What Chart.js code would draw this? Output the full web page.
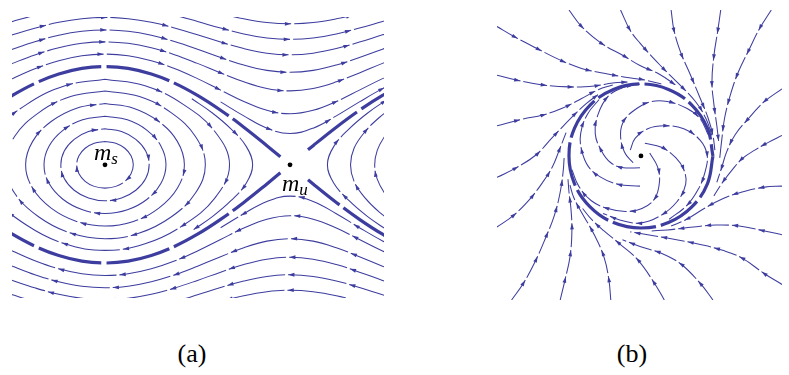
<!DOCTYPE html>
<html><head><meta charset="utf-8">
<script src="https://cdn.jsdelivr.net/npm/chart.js@4.4.1/dist/chart.umd.min.js"></script>
<style>
html,body{margin:0;padding:0;background:#fff;}
body{width:789px;height:375px;position:relative;overflow:hidden;font-family:"Liberation Serif","Times New Roman",serif;}
.pane{position:absolute;}
.lbl{position:absolute;color:#000;white-space:nowrap;line-height:1;}
.sub{position:relative;font-style:italic;}
</style></head><body>
<div class="pane" style="left:8px;top:13px;width:380px;height:289px"><canvas id="ca" width="380" height="289"></canvas></div>
<div class="pane" style="left:493px;top:6px;width:293px;height:298px"><canvas id="cb" width="293" height="298"></canvas></div>
<div class="lbl" style="left:94px;top:140px;font-size:24px;"><i>m</i><span class="sub" style="font-size:17px;top:4px;">s</span></div>
<div class="lbl" style="left:282px;top:171px;font-size:24px;"><i>m</i><span class="sub" style="font-size:17px;top:4px;">u</span></div>
<div class="lbl" style="left:142px;top:341px;width:100px;text-align:center;font-size:26px;">(a)</div>
<div class="lbl" style="left:582px;top:341px;width:100px;text-align:center;font-size:26px;">(b)</div>
<script>
// ---------- Panel (a): pendulum-like phase portrait (picture coordinates) ----------
const xGridA = [-15.1, 8.5, 32.1, 55.8, 79.4, 103, 126.6, 150.3, 173.9, 197.5, 221.1, 244.8, 268.4, 292, 315.6, 339.3, 362.9, 386.5, 410.1];
// upper running orbits (flow to the right)
const topA1 = [9.5, 3.4, -2.6, -7.4, -10.6, -11.7, -10.6, -7.4, -2.6, 3.4, 9.5, 14.9, 18.7, 20.0, 18.7, 14.9, 9.5, 3.4, -2.6];
const topA2 = [24.4, 17.6, 11.1, 5.8, 2.4, 1.2, 2.4, 5.8, 11.1, 17.6, 24.4, 30.4, 34.5, 36.0, 34.5, 30.4, 24.4, 17.6, 11.1];
const topA3 = [38.8, 31.3, 24.2, 18.4, 14.7, 13.4, 14.7, 18.4, 24.2, 31.3, 38.8, 45.5, 50.2, 51.9, 50.2, 45.5, 38.8, 31.3, 24.2];
const topA4 = [54.6, 46.1, 38.2, 31.8, 27.7, 26.3, 27.7, 31.8, 38.2, 46.1, 54.6, 62.4, 67.9, 69.9, 67.9, 62.4, 54.6, 46.1, 38.2];
const topA5 = [70.5, 60.7, 51.7, 44.7, 40.1, 38.6, 40.1, 44.7, 51.7, 60.7, 70.5, 79.7, 86.5, 89.0, 86.5, 79.7, 70.5, 60.7, 51.7];
const topA6 = [88.2, 76.4, 66.0, 58.0, 52.9, 51.2, 52.9, 58.0, 66.0, 76.4, 88.2, 99.9, 109.0, 112.6, 109.0, 99.9, 88.2, 76.4, 66.0];
const topA7 = [null, null, null, null, null, null, null, null, null, null, 100.3, 114.7, 127.3, 132.8, 127.3, 114.7, 100.3, 86.7, 75.1];
// lower running orbits (flow to the left)
const botB2 = [305.6, 312.4, 318.9, 324.2, 327.6, 328.8, 327.6, 324.2, 318.9, 312.4, 305.6, 299.6, 295.5, 294.0, 295.5, 299.6, 305.6, 312.4, 318.9];
const botB3 = [291.2, 298.7, 305.8, 311.6, 315.3, 316.6, 315.3, 311.6, 305.8, 298.7, 291.2, 284.5, 279.8, 278.1, 279.8, 284.5, 291.2, 298.7, 305.8];
const botB4 = [275.4, 283.9, 291.8, 298.2, 302.3, 303.7, 302.3, 298.2, 291.8, 283.9, 275.4, 267.6, 262.1, 260.1, 262.1, 267.6, 275.4, 283.9, 291.8];
const botB5 = [259.5, 269.3, 278.3, 285.3, 289.9, 291.4, 289.9, 285.3, 278.3, 269.3, 259.5, 250.3, 243.5, 241.0, 243.5, 250.3, 259.5, 269.3, 278.3];
const botB6 = [241.8, 253.6, 264.0, 272.0, 277.1, 278.8, 277.1, 272.0, 264.0, 253.6, 241.8, 230.1, 221.0, 217.4, 221.0, 230.1, 241.8, 253.6, 264.0];
const botB7 = [null, null, null, null, null, null, null, null, null, null, 229.7, 215.3, 202.7, 197.2, 202.7, 215.3, 229.7, 243.3, 254.9];
// separatrices (thick)
const sepUpper = [108.9, 93.6, 81.0, 71.7, 65.9, 64.0, 65.9, 71.7, 81.0, 93.6, 108.9, 126.3, 145.3, 165.0, 184.7, 203.7, 221.1, 236.4, 249.0];
const sepLower = [221.1, 236.4, 249.0, 258.3, 264.1, 266.0, 264.1, 258.3, 249.0, 236.4, 221.1, 203.7, 184.7, 165.0, 145.3, 126.3, 108.9, 93.6, 81.0];
// closed orbits around m_s (clockwise on screen)
const loop24x = [103, 114.0, 123.3, 129.6, 131.9, 129.6, 123.3, 114.0, 103, 92.0, 82.7, 76.4, 74.1, 76.4, 82.7, 92.0, 103];
const loop24y = [141, 142.8, 148.0, 155.8, 165, 174.2, 182.0, 187.2, 189, 187.2, 182.0, 174.2, 165, 155.8, 148.0, 142.8, 141];
const loop37x = [103, 119.9, 134.5, 144.6, 148.1, 144.6, 134.5, 119.9, 103, 86.1, 71.5, 61.4, 57.9, 61.4, 71.5, 86.1, 103];
const loop37y = [128, 130.8, 138.8, 150.8, 165, 179.2, 191.2, 199.2, 202, 199.2, 191.2, 179.2, 165, 150.8, 138.8, 130.8, 128];
const loop50x = [103, 125.9, 146.0, 160.2, 165.3, 160.2, 146.0, 125.9, 103, 80.1, 60.0, 45.8, 40.7, 45.8, 60.0, 80.1, 103];
const loop50y = [115, 118.8, 129.6, 145.9, 165, 184.1, 200.4, 211.2, 215, 211.2, 200.4, 184.1, 165, 145.9, 129.6, 118.8, 115];
const loop63x = [103, 132.0, 158.0, 176.9, 184.1, 176.9, 158.0, 132.0, 103, 74.0, 48.0, 29.1, 21.9, 29.1, 48.0, 74.0, 103];
const loop63y = [102, 106.8, 120.5, 140.9, 165, 189.1, 209.5, 223.2, 228, 223.2, 209.5, 189.1, 165, 140.9, 120.5, 106.8, 102];
const loop76x = [103, 138.2, 170.5, 195.4, 205.5, 195.4, 170.5, 138.2, 103, 67.9, 35.5, 10.6, 0.5, 10.6, 35.5, 67.9, 103];
const loop76y = [89, 94.8, 111.3, 135.9, 165, 194.1, 218.7, 235.2, 241, 235.2, 218.7, 194.1, 165, 135.9, 111.3, 94.8, 89];
const loop88x = [103, 143.9, 182.9, 215.6, 230.2, 215.6, 182.9, 143.9, 103, 62.1, 23.1, -9.6, -24.2, -9.6, 23.1, 62.1, 103];
const loop88y = [77, 83.7, 102.8, 131.3, 165, 198.7, 227.2, 246.3, 253, 246.3, 227.2, 198.7, 165, 131.3, 102.8, 83.7, 77];
const arc96x = [191.7, 212.7, 231.9, 247.4, 253.8, 247.4, 231.9, 212.7, 191.7];
const arc96y = [97.1, 111.7, 128.3, 146.3, 165, 183.7, 201.7, 218.3, 232.9];
// orbits around the next centre (right edge, flowing upward)
const right96x = [392.3, 371.3, 352.1, 336.6, 330.2, 336.6, 352.1, 371.3, 392.3];
const right96y = [232.9, 218.3, 201.7, 183.7, 165, 146.3, 128.3, 111.7, 97.1];
const right88x = [401.1, 383.5, 368.4, 357.5, 353.8, 357.5, 368.4, 383.5, 401.1];
const right88y = [227.2, 213.9, 198.7, 182.2, 165, 147.8, 131.3, 116.1, 102.8];
const right76x = [413.5, 399.7, 388.6, 381.1, 378.5, 381.1, 388.6, 399.7, 413.5];
const right76y = [218.7, 207.2, 194.1, 179.8, 165, 150.2, 135.9, 122.8, 111.3];
const fixedA = [[103, 165], [292, 165]];

// ---------- Panel (b): stable limit cycle ----------
const cycleX = [715, 709.4, 693.3, 669.3, 641, 612.7, 588.7, 572.6, 567, 572.6, 588.7, 612.7, 641, 669.3, 693.3, 709.4, 715];
const cycleY = [156, 184.3, 208.3, 224.4, 230, 224.4, 208.3, 184.3, 156, 127.7, 103.7, 87.6, 82, 87.6, 103.7, 127.7, 156];
const outerB = [
  [[493,23],[510,33],[533,45],[557,57],[580,66],[603,71],[625,75],[645,78],[662,82]],
  [[493,73],[513,78],[540,83],[567,85],[593,84],[612,81],[628,80]],
  [[493,125],[520,118],[540,114],[560,107],[580,97],[597,88],[612,83]],
  [[493,178],[513,168],[533,155],[550,137],[570,116],[585,102],[598,92]],
  [[493,229],[510,217],[527,200],[540,183],[550,167],[557,150],[564,132]],
  [[508,304],[520,287],[532,265],[543,240],[552,217],[558,193],[561,172],[562,158]],
  [[558,304],[563,283],[568,260],[570,233],[569,210],[567,193],[566,180]],
  [[610,304],[608,283],[603,260],[593,237],[580,214],[572,199],[568,186]],
  [[665,304],[655,287],[638,263],[620,247],[603,233],[590,221],[581,210]],
  [[715,304],[702,287],[682,267],[662,256],[640,249],[622,242]],
  [[786,288],[768,277],[745,261],[725,253],[702,247],[672,241],[648,237],[630,234]],
  [[786,237],[768,233],[742,228],[718,227],[695,229],[668,232],[652,233]],
  [[786,187],[768,188],[745,193],[725,200],[706,210],[688,221],[672,228]],
  [[786,135],[772,142],[758,150],[746,158],[735,170],[725,183],[716,197]],
  [[786,87],[768,100],[752,117],[738,134],[729,152],[724,168],[719,183]],
  [[672,6],[675,27],[682,50],[692,73],[702,97],[710,117],[715,135],[717,150]],
  [[723,6],[720,27],[716,53],[714,80],[716,103],[719,125],[721,142]],
  [[775,6],[763,25],[752,47],[741,70],[733,93],[727,117],[724,140],[722,158]],
  [[567,6],[580,23],[600,40],[623,53],[640,63],[660,72],[678,84]],
  [[620,6],[630,27],[640,40],[660,62],[680,82],[697,100],[708,118],[714,135]]
];
const innerB = [
  [[633,163],[624,152],[620,133],[624,119],[637,107],[652,100],[668,100],[688,107],[702,118],[710,134]],
  [[630,150],[635,138],[648,128],[665,125],[685,128],[702,140],[709,155],[707,172],[700,190],[688,207],[670,221]],
  [[645,143],[662,147],[677,158],[685,170],[687,185],[678,203],[660,218],[640,225],[620,222],[602,215]],
  [[650,153],[658,167],[660,183],[655,200],[642,210],[625,213],[607,210],[590,202],[577,187],[570,170]],
  [[640,168],[623,168],[610,163],[600,150],[594,133],[597,113],[607,95],[622,86],[640,82]],
  [[640,187],[617,185],[600,178],[587,167],[580,150],[579,133],[586,113],[598,98]]
];
const fixedB = [[641, 156]];

// ---------- drawing ----------
const COL = '#3d3d9f';
function xy(xs, ys) {
  const out = [];
  for (let i = 0; i < xs.length; i++) if (xs[i] !== null && ys[i] !== null) out.push({x: xs[i], y: ys[i]});
  return out;
}
function pairs(list) { return list.map(p => ({x: p[0], y: p[1]})); }
function thin(data, P) {
  return {data, showLine: true, pointRadius: 0, pointHoverRadius: 0, borderColor: COL, backgroundColor: COL,
    borderWidth: 1.05, tension: 0.4, fill: false, borderDash: [P - 3, 3], arrowP: P, arrowGap: 3};
}
function thick(data, dash, off) {
  return {data, showLine: true, pointRadius: 0, pointHoverRadius: 0, borderColor: COL, backgroundColor: COL,
    borderWidth: 3.2, tension: 0.4, fill: false, borderDash: dash, borderDashOffset: off};
}
function dots(list) {
  return {data: pairs(list), showLine: false, pointRadius: 2.4, pointBackgroundColor: '#000', pointBorderWidth: 0, pointBorderColor: '#000'};
}
function drawArrow(ctx, x, y, dx, dy) {
  const len = 6.2, w = 1.9, bx = x - dx * len, by = y - dy * len;
  ctx.beginPath();
  ctx.moveTo(x, y);
  ctx.lineTo(bx - dy * w, by + dx * w);
  ctx.lineTo(bx + dy * w, by - dx * w);
  ctx.closePath();
  ctx.fill();
}
const arrowPlugin = {
  id: 'streamArrows',
  afterDatasetsDraw(chart) {
    const ctx = chart.ctx, a = chart.chartArea;
    ctx.save();
    ctx.beginPath(); ctx.rect(a.left, a.top, a.right - a.left, a.bottom - a.top); ctx.clip();
    chart.data.datasets.forEach((ds, di) => {
      if (!ds.arrowP) return;
      const el = chart.getDatasetMeta(di).data;
      const sp = [];
      for (let j = 0; j < el.length; j++) {
        const p = el[j];
        if (j === 0) { sp.push([p.x, p.y]); continue; }
        const q = el[j - 1];
        const c1x = q.cp2x ?? q.x, c1y = q.cp2y ?? q.y, c2x = p.cp1x ?? p.x, c2y = p.cp1y ?? p.y;
        for (let t = 1; t <= 24; t++) {
          const u = t / 24, v = 1 - u;
          sp.push([v*v*v*q.x + 3*v*v*u*c1x + 3*v*u*u*c2x + u*u*u*p.x,
                   v*v*v*q.y + 3*v*v*u*c1y + 3*v*u*u*c2y + u*u*u*p.y]);
        }
      }
      const P = ds.arrowP, g = ds.arrowGap;
      let target = P - g, s = 0;
      ctx.fillStyle = ds.borderColor;
      for (let k = 1; k < sp.length; k++) {
        const x0 = sp[k-1][0], y0 = sp[k-1][1], x1 = sp[k][0], y1 = sp[k][1];
        const L = Math.hypot(x1 - x0, y1 - y0);
        while (L > 0 && s + L >= target) {
          const f = (target - s) / L;
          drawArrow(ctx, x0 + f * (x1 - x0), y0 + f * (y1 - y0), (x1 - x0) / L, (y1 - y0) / L);
          target += P;
        }
        s += L;
      }
    });
    ctx.restore();
  }
};
function mkChart(id, xmin, xmax, ymin, ymax, datasets) {
  return new Chart(document.getElementById(id), {
    type: 'scatter',
    data: {datasets},
    options: {
      responsive: false, animation: false, events: [], devicePixelRatio: 1,
      layout: {padding: 0},
      plugins: {legend: {display: false}, tooltip: {enabled: false}},
      elements: {line: {capBezierPoints: false}},
      scales: {
        x: {type: 'linear', min: xmin, max: xmax, display: false},
        y: {type: 'linear', min: ymin, max: ymax, reverse: true, display: false}
      }
    },
    plugins: [arrowPlugin]
  });
}

const PA = 62;
const dsA = [];
[topA1, topA2, topA3, topA4, topA5, topA6, topA7].forEach(ys => dsA.push(thin(xy(xGridA, ys), PA)));
[botB2, botB3, botB4, botB5, botB6, botB7].forEach(ys => dsA.push(thin(xy(xGridA, ys).reverse(), PA)));
[[loop24x, loop24y], [loop37x, loop37y], [loop50x, loop50y], [loop63x, loop63y], [loop76x, loop76y], [loop88x, loop88y],
 [arc96x, arc96y], [right96x, right96y], [right88x, right88y], [right76x, right76y]]
  .forEach(([xs, ys]) => dsA.push(thin(xy(xs, ys), PA)));
// dash patterns of the separatrices: long segments, opened up around the saddle point
dsA.push(thick(xy(xGridA, sepUpper), [52, 5, 65, 5, 65, 5, 64, 5, 61, 36, 40, 5, 65, 5, 200], 0));
dsA.push(thick(xy(xGridA, sepLower), [52, 5, 65, 5, 65, 5, 64, 5, 61, 36, 62, 5, 200], 0));
dsA.push(dots(fixedA));
mkChart('ca', 8, 388, 13, 302, dsA);

const PB = 27;
const dsB = [];
outerB.forEach(l => dsB.push(thin(pairs(l), PB)));
innerB.forEach(l => dsB.push(thin(pairs(l), PB)));
dsB.push(thick(xy(cycleX, cycleY), [44, 5], 0));
dsB.push(dots(fixedB));
mkChart('cb', 493, 786, 6, 304, dsB);
</script>
</body></html>
